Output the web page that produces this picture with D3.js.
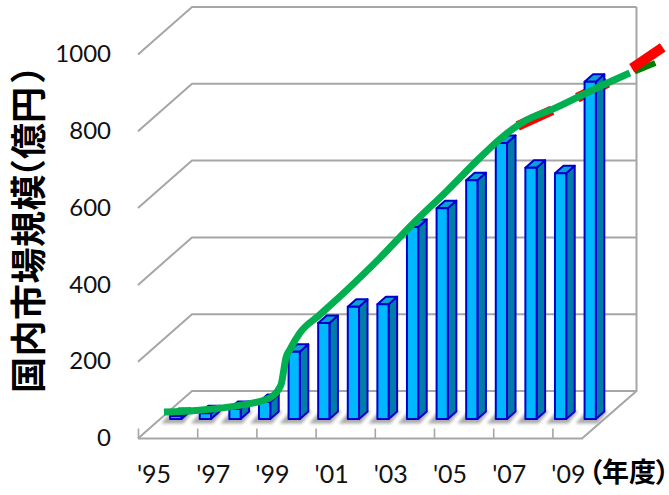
<!DOCTYPE html>
<html lang="ja">
<head>
<meta charset="utf-8">
<script src="https://cdnjs.cloudflare.com/ajax/libs/d3/7.8.5/d3.min.js"></script>
<style>
html, body { margin: 0; padding: 0; background: #fff; overflow: hidden; }
svg { display: block; }
.num { font-family: Lato, "Open Sans", sans-serif; fill: #111; }
.jp { font-family: "Noto Sans CJK JP", sans-serif; font-weight: 700; fill: #000; text-spacing-trim: space-all; }
.unit { font-feature-settings: "palt"; }
</style>
</head>
<body>
<svg id="chart" width="669" height="495"></svg>
<script>
// Annual market size, in units of 100 million yen
const years = d3.range(1995, 2010);
const marketValues = [8, 15, 26, 44, 175, 250, 292, 299, 500, 549, 622, 719, 654, 640, 878];
const yTicks = [0, 200, 400, 600, 800, 1000];
const xTickYears = [1995, 1997, 1999, 2001, 2003, 2005, 2007, 2009];

// Trend curve, then the forecast extensions
const trendYears = [1994.6, 1995.8, 1997.2, 1998.18, 1998.55, 1998.65, 1998.72, 1998.85, 1999.19, 1999.86, 2000.78, 2001.89, 2003, 2004.16, 2005.27, 2005.95, 2006.79, 2007.74, 2009.22, 2010.34];
const trendValues = [18, 23, 36, 55, 88, 128, 159, 180, 224, 271, 336, 419, 508, 594, 680, 729, 776, 807, 862, 901];
const forecastYears = [2006.55, 2007.74, 2008.58, 2009.6, 2010.44, 2011.45];
const forecastValues = [763, 805, 837, 876, 915, 968];
const tipYears = [2010.5, 2011.2];
const tipValues = [905, 927];

const yAxisTitle = "国内市場規模（億円）";
const xAxisUnit = "（年度）";
// Tightens the full-width brackets in the rotated title
const yTitleKerning = "0 0.5 0.5 0.5 0.5 0.5 -20.5 0 0 3";

const svg = d3.select("#chart");
const defs = svg.append("defs");
defs.append("filter").attr("id", "soft").attr("x", "-30%").attr("y", "-30%").attr("width", "160%").attr("height", "160%")
  .append("feGaussianBlur").attr("stdDeviation", 1.8);
defs.append("filter").attr("id", "edge").attr("x", "-10%").attr("y", "-10%").attr("width", "120%").attr("height", "120%")
  .append("feGaussianBlur").attr("stdDeviation", 0.4);

// Oblique projection: front floor edge, back wall, and the bars' plane between them
const frontLeft = 138, frontRight = 582, frontY = 438.5;
const depthX = 54, depthY = 47.5;
const plotH = 384;
const barShiftX = 23, barShiftY = 19.5;
const barDepthX = 8.5, barDepthY = 7.5;

const x = d3.scaleBand().domain(years).range([frontLeft, frontRight]).paddingInner(0.62).paddingOuter(0.31);
const xStart = d3.scaleBand().domain(years).range([frontLeft, frontRight]);
const y = d3.scaleLinear().domain([0, 1000]).range([plotH, 0]);
const xLine = d3.scaleLinear().domain([1995, 2009])
  .range([x(1995) + barShiftX + x.bandwidth() / 2, x(2009) + barShiftX + x.bandwidth() / 2]);
const barBase = frontY - barShiftY - plotH;
const yLine = v => barBase + y(v);
const wallTop = frontY - depthY - plotH;
const labelTop = frontY - plotH;

const gridColor = "#a6a6a6";

// Walls and floor
const frame = svg.append("g").attr("fill", "none").attr("stroke", gridColor).attr("stroke-width", 2);
frame.selectAll("path.grid").data(yTicks).join("path").attr("class", "grid")
  .attr("d", v => {
    const f = labelTop + y(v), b = wallTop + y(v);
    return `M${frontLeft},${f}L${frontLeft + depthX},${b}L${frontRight + depthX + 0.5},${b}`;
  });
frame.append("path").attr("d", `M${frontRight + depthX + 0.5},${wallTop}V${frontY - depthY}L${frontRight},${frontY}`);

// Front floor edge with its ticks and year labels
const xAxis = d3.axisBottom(d3.scalePoint().domain(xTickYears).range([frontLeft, frontLeft + 7 * 2 * xStart.step()]))
  .tickSizeInner(-10).tickSizeOuter(0).tickFormat(d => "'" + String(d).slice(2));
const xg = svg.append("g").attr("transform", `translate(0,${frontY})`).call(xAxis);
xg.select(".domain").remove();
xg.append("line").attr("x1", frontLeft).attr("x2", frontRight + 1).attr("stroke", gridColor).attr("stroke-width", 2);
xg.selectAll(".tick line").attr("stroke", gridColor).attr("stroke-width", 1.6);
xg.selectAll(".tick text").attr("class", "num").attr("font-family", null).attr("font-size", 25)
  .attr("fill", null).attr("dx", 15.5).attr("y", 26.5).attr("dy", "0.71em");

// Value labels
const yAxis = d3.axisLeft(y).tickValues(yTicks).tickSize(0).tickPadding(0).tickFormat(d3.format("d"));
const yg = svg.append("g").attr("transform", `translate(111,${labelTop - 0.5})`).call(yAxis);
yg.select(".domain").remove();
yg.selectAll(".tick text").attr("class", "num").attr("font-family", null).attr("font-size", 24).attr("fill", null);

// Soft shadows cast on the floor
svg.append("g").attr("filter", "url(#soft)").selectAll("path").data(years).join("path")
  .attr("fill", "#ababab")
  .attr("d", d => {
    const l = x(d) + barShiftX, w = x.bandwidth();
    const b = frontY - barShiftY;
    return `M${l - 9},${b + 4.5}L${l + w + 2},${b + 4.5}L${l + w + 12},${b - 8}L${l + 2},${b - 8}Z`;
  });

// Forecast line runs behind the bars
svg.append("path").datum(tipYears.map((d, i) => [d, tipValues[i]]))
  .attr("fill", "none").attr("stroke", "#008000").attr("stroke-width", 6)
  .attr("d", d3.line().x(d => xLine(d[0])).y(d => yLine(d[1])));
svg.append("path").datum(forecastYears.map((d, i) => [d, forecastValues[i]]))
  .attr("fill", "none").attr("stroke", "#ff0000").attr("stroke-width", 10)
  .attr("stroke-dasharray", "38 28 34 28 40")
  .attr("d", d3.line().x(d => xLine(d[0])).y(d => yLine(d[1])));

// Bars: side, top and front faces
const bars = svg.append("g").attr("filter", "url(#edge)").selectAll("g").data(years.map((d, i) => ({ year: d, value: marketValues[i] }))).join("g")
  .attr("stroke", "#0000cc").attr("stroke-width", 2).attr("stroke-linejoin", "round")
  .attr("transform", d => `translate(${x(d.year) + barShiftX},${barBase})`);
const w = x.bandwidth();
bars.append("path").attr("fill", "#007ba8")
  .attr("d", d => `M${w},${y(d.value)}L${w + barDepthX},${y(d.value) - barDepthY}V${plotH - barDepthY}L${w},${plotH}Z`);
bars.append("path").attr("fill", "#0a9fd6")
  .attr("d", d => `M0,${y(d.value)}L${barDepthX},${y(d.value) - barDepthY}H${w + barDepthX}L${w},${y(d.value)}Z`);
bars.append("rect").attr("fill", "#00b8ff").attr("x", 0).attr("width", w)
  .attr("y", d => y(d.value)).attr("height", d => plotH - y(d.value));

// Trend curve sits on top of everything
svg.append("path").datum(trendYears.map((d, i) => [d, trendValues[i]]))
  .attr("fill", "none").attr("stroke", "#00b050").attr("stroke-width", 7)
  .attr("d", d3.line().x(d => xLine(d[0])).y(d => yLine(d[1])).curve(d3.curveMonotoneX));

// Axis titles
svg.append("text").attr("class", "jp").attr("font-size", 36)
  .attr("dx", yTitleKerning)
  .attr("transform", "translate(42,393) rotate(-90)").text(yAxisTitle);
svg.append("text").attr("class", "jp unit").attr("font-size", 27)
  .attr("x", 588.5).attr("y", 482).text(xAxisUnit);
</script>
</body>
</html>
